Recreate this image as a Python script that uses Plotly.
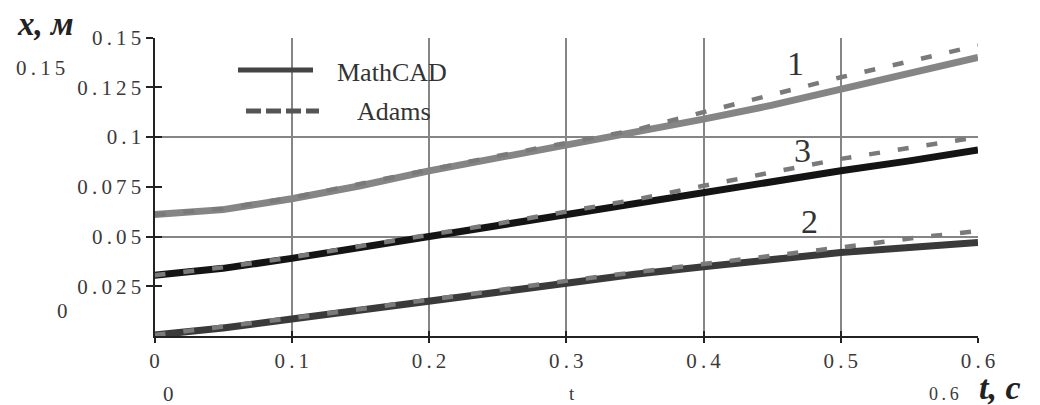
import plotly.graph_objects as go

W, H = 1040, 405

t = [0.0, 0.05, 0.1, 0.15, 0.2, 0.25, 0.3, 0.35, 0.4, 0.45, 0.5, 0.55, 0.6]
mathcad_1 = [0.061, 0.0635, 0.069, 0.0755, 0.083, 0.0895, 0.096, 0.102, 0.109, 0.116, 0.124, 0.132, 0.140]
adams_1 = [0.061, 0.064, 0.0695, 0.0765, 0.084, 0.0905, 0.097, 0.1035, 0.1125, 0.1215, 0.130, 0.138, 0.146]
mathcad_3 = [0.0305, 0.034, 0.039, 0.0445, 0.050, 0.0555, 0.061, 0.0665, 0.0725, 0.078, 0.083, 0.088, 0.0935]
adams_3 = [0.0305, 0.0345, 0.0395, 0.045, 0.0507, 0.0565, 0.0625, 0.0685, 0.0755, 0.0825, 0.089, 0.0945, 0.100]
mathcad_2 = [0.0005, 0.004, 0.0085, 0.013, 0.0178, 0.0225, 0.027, 0.031, 0.0348, 0.0385, 0.042, 0.0445, 0.047]
adams_2 = [0.0005, 0.0045, 0.009, 0.0135, 0.0183, 0.023, 0.0277, 0.032, 0.036, 0.040, 0.0445, 0.049, 0.0528]

S = "\u2009"
x_ticks = [0, 0.1, 0.2, 0.3, 0.4, 0.5, 0.6]
x_ticklabels = ["0", "0.1", "0.2", "0.3", "0.4", "0.5", "0.6"]
y_ticks = [0.025, 0.05, 0.075, 0.1, 0.125, 0.15]
y_ticklabels = ["0.025", "0.05", "0.075", "0.1", "0.125", "0.15"]
y_grid = [0.05, 0.1, 0.15]


def spaced(s):
    return S.join(list(s))


FONT = "Liberation Serif"
TXT = "#3a3a3a"

fig = go.Figure()

# solid MathCAD curves
fig.add_trace(go.Scatter(x=t, y=mathcad_1, mode="lines", line=dict(color="#858585", width=7), showlegend=False))
fig.add_trace(go.Scatter(x=t, y=mathcad_3, mode="lines", line=dict(color="#141414", width=7), showlegend=False))
fig.add_trace(go.Scatter(x=t, y=mathcad_2, mode="lines", line=dict(color="#3a3a3a", width=7), showlegend=False))
# dashed Adams curves
for ys in (adams_1, adams_3, adams_2):
    fig.add_trace(go.Scatter(x=t, y=ys, mode="lines",
                             line=dict(color="#7a7a7a", width=4.5, dash="11px,18px"), showlegend=False))

x0, x1 = 154.5, 978
y_top, y_bot = 37.5, 336
xdom = [x0 / W, x1 / W]
ydom = [1 - y_bot / H, 1 - y_top / H]

fig.update_layout(
    width=W, height=H,
    margin=dict(l=0, r=0, t=0, b=0),
    paper_bgcolor="white", plot_bgcolor="white",
    font=dict(family=FONT, color="#333"),
    xaxis=dict(domain=xdom, range=[0, 0.6], tickvals=x_ticks, ticktext=[spaced(s) for s in x_ticklabels],
               ticks="outside", ticklen=5, tickwidth=2, tickcolor="#222",
               showline=True, linecolor="#222", linewidth=2,
               showgrid=True, gridcolor="#858585", gridwidth=1.6, zeroline=False,
               tickfont=dict(family=FONT, size=21, color=TXT), automargin=False),
    yaxis=dict(domain=ydom, range=[0, 0.15], tickvals=y_ticks, ticktext=[spaced(s) for s in y_ticklabels],
               ticks="outside", ticklen=7, tickwidth=2, tickcolor="#222",
               showline=True, linecolor="#222", linewidth=2,
               showgrid=False, zeroline=False,
               tickfont=dict(family=FONT, size=21, color=TXT), automargin=False),
    xaxis2=dict(domain=xdom, range=[0, 0.6], overlaying="x", tickvals=x_ticks,
                ticks="inside", ticklen=5, tickwidth=2, tickcolor="#222",
                showticklabels=False, showgrid=False, zeroline=False, showline=False, side="bottom"),
    yaxis2=dict(domain=ydom, range=[0, 0.15], overlaying="y", tickvals=y_grid,
                ticks="", showticklabels=False, showgrid=True, gridcolor="#858585",
                gridwidth=1.6, zeroline=False, showline=False),
    yaxis3=dict(domain=ydom, range=[0, 0.15], overlaying="y", tickvals=y_ticks + [0],
                ticks="inside", ticklen=7, tickwidth=2, tickcolor="#222",
                showticklabels=False, showgrid=False, zeroline=False, showline=False),
)

# invisible traces to anchor overlay axes
fig.add_trace(go.Scatter(x=[None], y=[None], xaxis="x2", yaxis="y2", showlegend=False, hoverinfo="skip"))
fig.add_trace(go.Scatter(x=[None], y=[None], xaxis="x", yaxis="y3", showlegend=False, hoverinfo="skip"))

# legend keys
fig.add_shape(type="line", xref="paper", yref="paper", x0=238 / W, x1=313 / W, y0=1 - 70 / H, y1=1 - 70 / H,
              line=dict(color="#444", width=5))
fig.add_shape(type="line", xref="paper", yref="paper", x0=246 / W, x1=319 / W, y0=1 - 111 / H, y1=1 - 111 / H,
              line=dict(color="#555", width=5, dash="15px,5px"))


def txt(text, x, y, size, xanchor="center", color="#333"):
    fig.add_annotation(text=text, xref="paper", yref="paper", x=x / W, y=1 - y / H,
                       xanchor=xanchor, yanchor="middle", showarrow=False,
                       font=dict(family=FONT, size=size, color=color))


txt("MathCAD", 335, 72, 26, "left")
txt("Adams", 355, 111, 26, "left")
txt("1", 795, 64, 34)
txt("3", 802, 150, 34)
txt("2", 809, 221, 34)
txt("<b><i>x, м</i></b>", 45, 24, 33, color="#222")
txt("<b><i>t, c</i></b>", 1000, 387, 34, color="#222")
txt(spaced("0.15"), 40, 68, 21, color=TXT)
txt("0", 62, 311, 21, color=TXT)
txt("0", 168, 394, 21, color=TXT)
txt("t", 572, 393, 19, color=TXT)
txt(spaced("0.6"), 944, 394, 18, color=TXT)

fig.write_html("out.html")
